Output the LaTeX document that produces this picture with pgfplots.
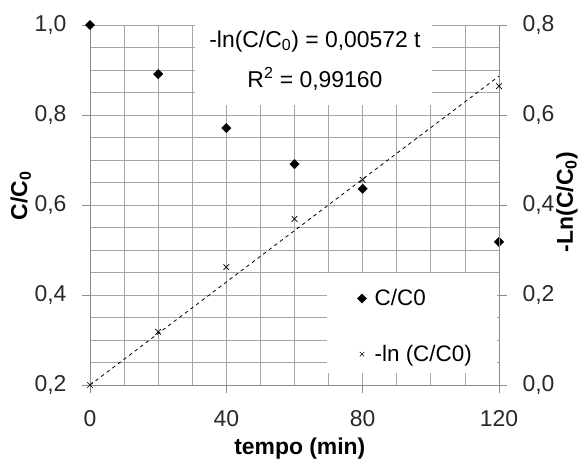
\documentclass[border=0pt]{standalone}
\usepackage{fontspec}
\setmainfont{Liberation Sans}
\usepackage{pgfplots}
\pgfplotsset{compat=1.18}
\definecolor{gridgray}{RGB}{165,165,165}
\definecolor{axisgray}{RGB}{140,140,140}
\definecolor{ink}{RGB}{40,40,40}
\newcommand{\bigf}{\fontsize{23}{27}\selectfont}
\newcommand{\legf}{\fontsize{22.5}{26}\selectfont}
\pgfplotsset{
  base/.style={scale only axis, width=409bp, height=360bp, xmin=0, xmax=120,
    tick align=outside, major tick length=8bp, minor tick length=0pt,
    axis line style={-, axisgray, line width=0.8pt},
    tick style={axisgray, line width=0.8pt},
    tick label style={font=\bigf, text=ink},
    /pgf/number format/assume math mode=true},
  commafmt/.style={yticklabel style={/pgf/number format/use comma,
    /pgf/number format/fixed, /pgf/number format/fixed zerofill,
    /pgf/number format/precision=1}},
}
\begin{document}
\begin{tikzpicture}
\begin{axis}[base, commafmt, clip=false,
  ymin=0.2, ymax=1.0,
  axis x line*=bottom, axis y line*=left,
  xtick={0,40,80,120}, minor xtick={10,20,30,50,60,70,90,100,110},
  ytick={0.2,0.4,0.6,0.8,1.0},
  minor ytick={0.25,0.3,0.35,0.45,0.5,0.55,0.65,0.7,0.75,0.85,0.9,0.95},
  grid=both, major grid style={gridgray, line width=0.8pt},
  minor grid style={gridgray, line width=0.8pt},
  xticklabel style={yshift=-14bp}, yticklabel style={xshift=-12bp},
  every axis y label/.style={at={(axis description cs:-0.169,0.525)}, rotate=90,
    anchor=center, font=\bigf\bfseries},
  ylabel={C/C\textsubscript{0}},
  every axis x label/.style={at={(axis description cs:0.513,-0.192)}, anchor=base,
    font=\bigf\bfseries},
  xlabel={tempo (min)},
  legend style={draw=none, fill=none, font=\legf, at={(axis cs:77.5,0.2394)}, anchor=south west,
    row sep=34bp, cells={anchor=west}, /tikz/every odd column/.append style={column sep=6bp}},
]
  \fill[white] (axis cs:30.8,0.822) rectangle (axis cs:100.35,1.01);
  \fill[white] (axis cs:69.5,0.2267) rectangle (axis cs:119.4,0.449);
  \node[font=\bigf, text=black, anchor=base] at (axis cs:66,0.951) {-ln(C/C\textsubscript{0}) = 0,00572 t};
  \node[font=\bigf, text=black, anchor=base] at (axis cs:66,0.862) {R\textsuperscript{2} = 0,99160};
  \addplot[only marks, mark=square*, mark size=3.3bp, mark options={rotate=45, black}]
    coordinates {(0,1.0)(20,0.891)(40,0.771)(60,0.691)(80,0.636)(120,0.518)};
  \addlegendentry{C/C0}
  \addlegendimage{only marks, mark=x, mark size=3.2bp, mark options={black, line width=0.6pt}}
  \addlegendentry{-ln (C/C0)}
\end{axis}
\begin{axis}[base, commafmt,
  ymin=0, ymax=0.8,
  axis x line=none, axis y line*=right,
  ytick={0,0.2,0.4,0.6,0.8},
  yticklabel style={xshift=12bp},
  every axis y label/.style={at={(axis description cs:1.166,0.508)}, rotate=90,
    anchor=center, font=\bigf\bfseries},
  ylabel={-Ln(C/C\textsubscript{0})},
]
  \addplot[black, line width=0.8pt, dash pattern=on 3.5bp off 3.5bp]
    coordinates {(0,0)(120,0.6864)};
  \addplot[only marks, mark=x, mark size=4bp, mark options={black, line width=0.7pt}]
    coordinates {(0,0)(20,0.118)(40,0.262)(60,0.369)(80,0.456)(120,0.664)};
\end{axis}
\pgfresetboundingbox
\useasboundingbox (-90bp,-75bp) rectangle (494bp,385bp);
\end{tikzpicture}
\end{document}
